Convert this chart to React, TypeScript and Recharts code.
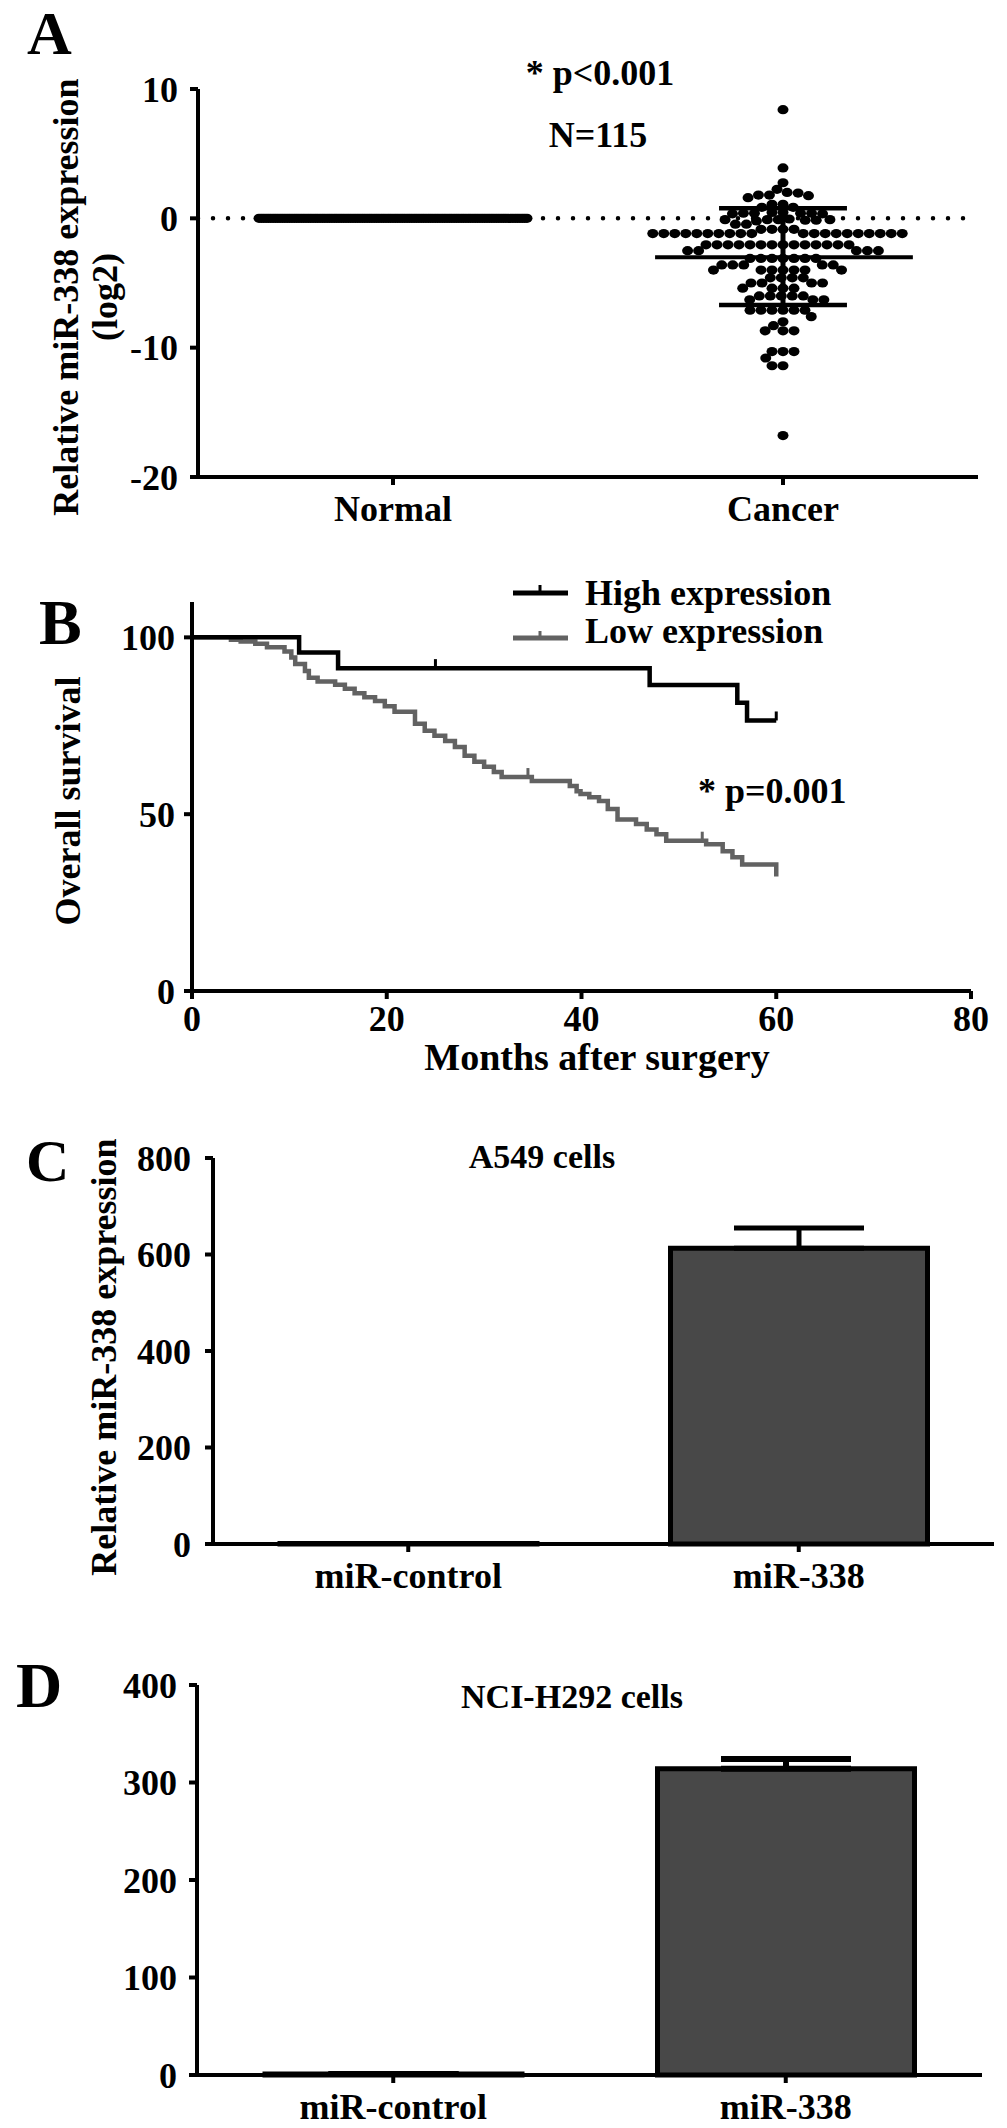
import React from 'react';
import {
  ScatterChart, Scatter, LineChart, Line, BarChart, Bar, ErrorBar,
  XAxis, YAxis, ReferenceLine,
} from 'recharts';

// ---- panel A: relative miR-338 (log2), one dot per sample ----
const normalCount = 115;
const normalValues: number[] = Array.from({ length: normalCount }, () => 0);
const cancerValues: number[] = [
  8.4, 3.9, 2.75, 2.24,
  1.95, 2.0, 1.8, 1.8, 1.75, 1.6,
  1.08, 1.08, 0.85, 0.85,
  0.4, 0.4, 0.45, 0.35, 0.4, 0.45, 0.35, 0.4,
  -0.1, -0.1, -0.15, -0.05, -0.1, -0.2, -0.1, -0.15,
  -0.45, -0.45,
  -0.85, -0.85, -0.85, -0.85,
  -1.18, -1.18, -1.18, -1.18, -1.18, -1.18, -1.18, -1.18, -1.18, -1.18,
  -1.18, -1.18, -1.18, -1.18, -1.18, -1.18, -1.18, -1.18, -1.18, -1.18,
  -2.05, -2.05, -2.05, -2.05, -2.05, -2.05, -2.05, -2.05, -2.05, -2.05, -2.05, -2.05, -2.05, -2.05,
  -2.5, -2.5, -2.5, -2.5, -2.5,
  -3.1, -3.1, -3.1, -3.1, -3.1, -3.1, -3.1,
  -3.6, -3.6, -3.6, -3.6, -3.6,
  -4.0, -4.0, -4.0, -4.0, -4.0, -4.0, -4.0,
  -4.6, -4.6, -4.6, -4.6,
  -5.0, -5.0, -5.0, -5.0,
  -5.4, -5.4, -5.4, -5.4,
  -6.0, -6.0, -6.0, -6.0, -6.0,
  -6.3, -6.3, -6.3,
  -7.1, -7.1, -7.1, -7.1, -7.1, -7.1,
  -7.6, -8.0, -8.3,
  -8.7, -8.7, -8.7,
  -10.3, -10.3, -10.3, -10.8,
  -11.4, -11.4,
  -16.8,
];
const groupNames = ['Normal', 'Cancer'];
const cancerMean = -3.0;
const cancerSdHigh = 0.77;
const cancerSdLow = -6.7;

// ---- panel B: Kaplan-Meier curves (month, % survival, censored) ----
const highMonths = [0, 11, 15, 25, 47, 56, 57, 60];
const highSurv = [100, 95.7, 91.3, 91.3, 86.5, 81.5, 76.5, 76.5];
const highCensor = [25, 60];
const lowMonths = [
  0, 4, 5, 6.5, 7.7, 9.5, 10.2, 10.6, 11.6, 12, 12.9, 14.7, 15.7, 16.7, 17.7, 18.8, 19.8, 20.8,
  22.9, 23.9, 24.9, 26, 27, 28, 29, 30, 31, 31.8, 34.5, 34.9, 38.8, 39.5, 39.9, 40.8, 41.8, 42.7,
  43.7, 45.6, 46.7, 47.7, 48.7, 52.4, 52.8, 54.5, 55.5, 56.5, 60,
];
const lowSurv = [
  100, 99.3, 98.8, 98.2, 97.2, 96, 94.3, 92.5, 90.5, 88.6, 87.5, 86.6, 85.5, 84.2, 83.1, 82, 80.5, 79,
  75.6, 73.6, 72.2, 70.7, 69, 66.5, 64.8, 63.4, 61.9, 60.5, 60.5, 59.4, 58, 56.5, 55.7, 54.8, 53.7, 51.5,
  48.5, 47.2, 45.7, 44.3, 42.5, 42.5, 41.5, 39.5, 37.8, 35.8, 32.4,
];
const lowCensor = [34.5, 52.4];

// ---- panels C / D: bars with upper error ----
const barGroups = ['miR-control', 'miR-338'];
const a549Means = [1, 613];
const a549Err = [0, 42];
const h292Means = [1, 314];
const h292Err = [0, 10];

const FONT = "'Liberation Serif', 'Times New Roman', serif";
const tickStyle = { fontFamily: FONT, fontWeight: 700, fontSize: 36, fill: '#000' };
const axisLine = { stroke: '#000', strokeWidth: 4 };

// beeswarm: nearest free horizontal offset for each point (dots are a bit flat, so dy counts more)
function swarm(values: number[], center: number, pxX: number, pxY: number, diam: number, yStretch = 1) {
  const order = values.map((_, i) => i).sort((a, b) => values[b] - values[a]);
  const placed: { x: number; y: number }[] = [];
  const out: { x: number; y: number }[] = new Array(values.length);
  for (const i of order) {
    const y = values[i] * pxY * yStretch;
    const iv: [number, number][] = [];
    for (const p of placed) {
      const dy = y - p.y;
      if (Math.abs(dy) < diam) {
        const w = Math.sqrt(diam * diam - dy * dy);
        iv.push([p.x - w, p.x + w]);
      }
    }
    const cands = [0, ...iv.flatMap(([a, b]) => [a, b])].sort((a, b) => Math.abs(a) - Math.abs(b));
    const x = cands.find((c) => iv.every(([a, b]) => c <= a + 1e-6 || c >= b - 1e-6)) ?? 0;
    placed.push({ x, y });
    out[i] = { x: center + x / pxX, y: values[i] };
  }
  return out;
}

const PX_X = 390;
const PX_Y = 388 / 30;
const normalPts = swarm(normalValues, 1, PX_X, PX_Y, 268 / (normalCount - 1));
const cancerPts = swarm(cancerValues, 2, PX_X, PX_Y, 11, 1.4);

const highData = highMonths.map((m, i) => ({ month: m, s: highSurv[i], c: highCensor.includes(m) }));
const lowData = lowMonths.map((m, i) => ({ month: m, s: lowSurv[i], c: lowCensor.includes(m) }));

const a549Data = barGroups.map((g, i) => ({ name: g, value: a549Means[i], err: [0, a549Err[i]] }));
const h292Data = barGroups.map((g, i) => ({ name: g, value: h292Means[i], err: [0, h292Err[i]] }));

const dotShape = (p: any) => <ellipse cx={p.cx} cy={p.cy} rx={5.5} ry={4.6} fill="#000" />;

const censorDot = (color: string) => (p: any) => {
  if (!p.payload || !p.payload.c) return <g key={`n-${p.index}`} />;
  return <line key={`c-${p.index}`} x1={p.cx} x2={p.cx} y1={p.cy} y2={p.cy - 9} stroke={color} strokeWidth={3} />;
};

const Txt = (props: any) => (
  <text fontFamily={FONT} fontWeight={700} fill="#000" {...props} />
);

export default function App() {
  return (
    <div style={{ position: 'absolute', left: 0, top: 0, width: 1007, height: 2128, background: '#fff' }}>
      {/* A */}
      <div style={{ position: 'absolute', left: 0, top: 0 }}>
        <ScatterChart width={1007} height={560} margin={{ top: 89, right: 29, bottom: 23, left: 0 }}>
          <XAxis type="number" dataKey="x" domain={[0.5, 2.5]} ticks={[1, 2]}
            tickFormatter={(v: number) => groupNames[v - 1]} height={60}
            axisLine={axisLine} tickLine={axisLine} tickSize={8} tickMargin={10} tick={tickStyle} />
          <YAxis type="number" dataKey="y" domain={[-20, 10]} ticks={[-20, -10, 0, 10]} width={198}
            axisLine={axisLine} tickLine={axisLine} tickSize={8} tickMargin={12} tick={tickStyle} />
          <ReferenceLine y={0} stroke="#000" strokeWidth={4.5} strokeDasharray="0 15" strokeLinecap="round" />
          <Scatter data={normalPts} shape={dotShape} isAnimationActive={false} />
          <Scatter data={cancerPts} shape={dotShape} isAnimationActive={false} />
          <ReferenceLine segment={[{ x: 1.672, y: cancerMean }, { x: 2.333, y: cancerMean }]} stroke="#000" strokeWidth={4} />
          <ReferenceLine segment={[{ x: 1.836, y: cancerSdHigh }, { x: 2.164, y: cancerSdHigh }]} stroke="#000" strokeWidth={4.5} />
          <ReferenceLine segment={[{ x: 1.836, y: cancerSdLow }, { x: 2.164, y: cancerSdLow }]} stroke="#000" strokeWidth={4.5} />
          <ReferenceLine segment={[{ x: 2, y: cancerSdHigh }, { x: 2, y: cancerSdLow }]} stroke="#000" strokeWidth={5} />
        </ScatterChart>
      </div>

      {/* B */}
      <div style={{ position: 'absolute', left: 0, top: 540 }}>
        <LineChart width={1007} height={540} margin={{ top: 62, right: 36, bottom: 39, left: 0 }}>
          <XAxis type="number" dataKey="month" domain={[0, 80]} ticks={[0, 20, 40, 60, 80]} height={50}
            axisLine={axisLine} tickLine={axisLine} tickSize={8} tickMargin={6} tick={tickStyle} />
          <YAxis type="number" domain={[0, 110]} ticks={[0, 50, 100]} width={192}
            axisLine={axisLine} tickLine={axisLine} tickSize={8} tickMargin={9} tick={tickStyle} />
          <Line data={lowData} dataKey="s" type="stepAfter" stroke="#626262" strokeWidth={4.5}
            dot={censorDot('#626262')} isAnimationActive={false} />
          <Line data={highData} dataKey="s" type="stepAfter" stroke="#000" strokeWidth={4.5}
            dot={censorDot('#000')} isAnimationActive={false} />
        </LineChart>
      </div>

      {/* C */}
      <div style={{ position: 'absolute', left: 0, top: 1080 }}>
        <BarChart width={1007} height={540} data={a549Data} margin={{ top: 78, right: 13, bottom: 16, left: 0 }}>
          <XAxis dataKey="name" height={60} axisLine={axisLine} tickLine={axisLine} tickSize={8} tickMargin={10} tick={tickStyle} />
          <YAxis type="number" domain={[0, 800]} ticks={[0, 200, 400, 600, 800]} width={213}
            axisLine={axisLine} tickLine={axisLine} tickSize={8} tickMargin={14} tick={tickStyle} />
          <Bar dataKey="value" fill="#484848" stroke="#000" strokeWidth={5} barSize={257} isAnimationActive={false}>
            <ErrorBar dataKey="err" direction="y" width={65} stroke="#000" strokeWidth={5} />
          </Bar>
        </BarChart>
      </div>

      {/* D */}
      <div style={{ position: 'absolute', left: 0, top: 1600 }}>
        <BarChart width={1007} height={528} data={h292Data} margin={{ top: 85, right: 25, bottom: 3, left: 0 }}>
          <XAxis dataKey="name" height={50} axisLine={axisLine} tickLine={axisLine} tickSize={8} tickMargin={10} tick={tickStyle} />
          <YAxis type="number" domain={[0, 400]} ticks={[0, 100, 200, 300, 400]} width={197}
            axisLine={axisLine} tickLine={axisLine} tickSize={8} tickMargin={12} tick={tickStyle} />
          <Bar dataKey="value" fill="#484848" stroke="#000" strokeWidth={5} barSize={257} isAnimationActive={false}>
            <ErrorBar dataKey="err" direction="y" width={65} stroke="#000" strokeWidth={6} />
          </Bar>
        </BarChart>
      </div>

      {/* labels and annotations */}
      <svg width={1007} height={2128} style={{ position: 'absolute', left: 0, top: 0, pointerEvents: 'none' }}>
        <Txt x={27} y={54} fontSize={62}>A</Txt>
        <Txt x={39} y={644} fontSize={64}>B</Txt>
        <Txt x={26} y={1181} fontSize={60}>C</Txt>
        <Txt x={16} y={1707} fontSize={64}>D</Txt>

        <Txt x={600} y={85} fontSize={36} textAnchor="middle">* p&lt;0.001</Txt>
        <Txt x={598} y={147} fontSize={36} textAnchor="middle">N=115</Txt>
        <Txt x={78} y={297} fontSize={36} textAnchor="middle" transform="rotate(-90 78 297)">Relative miR-338 expression</Txt>
        <Txt x={117} y={297} fontSize={36} textAnchor="middle" transform="rotate(-90 117 297)">(log2)</Txt>

        <Txt x={80} y={801} fontSize={36} textAnchor="middle" transform="rotate(-90 80 801)">Overall survival</Txt>
        <Txt x={597} y={1070} fontSize={38} textAnchor="middle">Months after surgery</Txt>
        <Txt x={698} y={803} fontSize={36}>* p=0.001</Txt>
        <line x1={513} x2={568} y1={593} y2={593} stroke="#000" strokeWidth={5} />
        <line x1={540} x2={540} y1={593} y2={585} stroke="#000" strokeWidth={3} />
        <line x1={513} x2={568} y1={638} y2={638} stroke="#626262" strokeWidth={5} />
        <line x1={540} x2={540} y1={638} y2={631} stroke="#626262" strokeWidth={3} />
        <Txt x={585} y={605} fontSize={36}>High expression</Txt>
        <Txt x={585} y={643} fontSize={36}>Low expression</Txt>

        <Txt x={116} y={1357} fontSize={36} textAnchor="middle" transform="rotate(-90 116 1357)">Relative miR-338 expression</Txt>
        <Txt x={542} y={1168} fontSize={34} textAnchor="middle">A549 cells</Txt>
        <Txt x={572} y={1708} fontSize={34} textAnchor="middle">NCI-H292 cells</Txt>
      </svg>
    </div>
  );
}
